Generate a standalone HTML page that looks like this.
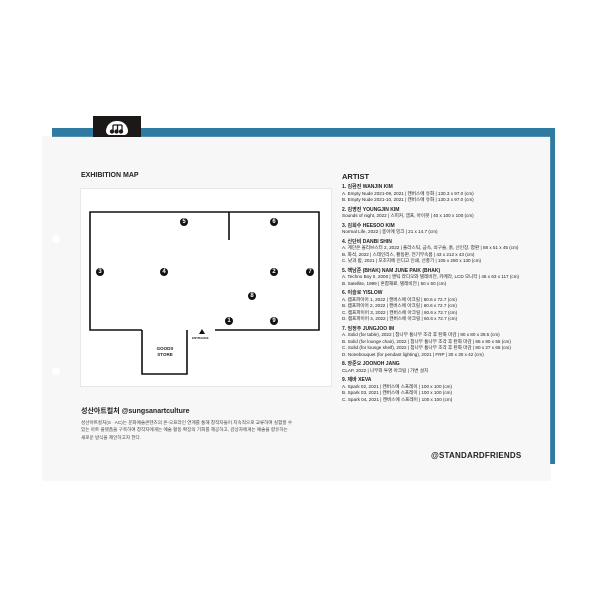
<!DOCTYPE html><html><head><meta charset="utf-8"><style>
body{margin:0;width:600px;height:600px;background:#fff;position:relative;overflow:hidden;font-family:"Liberation Sans","Noto Sans CJK KR",sans-serif;color:#222}
.a{position:absolute}
.t{position:absolute;font-size:4.6px;line-height:6.5px;white-space:nowrap}
.t b{font-weight:bold;font-size:5px}
.n{position:absolute;width:8px;height:8px;border-radius:50%;background:#111;color:#fff;font-size:6px;font-weight:bold;text-align:center;line-height:8px;margin:-4px 0 0 -4px}
</style></head><body>
<div class="a" style="left:52px;top:128px;width:503px;height:336px;background:#2e7aa3"></div>
<div class="a" style="left:43px;top:137px;width:507px;height:343px;background:#f7f7f7;box-shadow:0 0 1px #ddd"></div>
<div class="a" style="left:93px;top:116px;width:48px;height:21px;background:#1c1818"></div>
<div class="a" style="left:106px;top:121px;width:22px;height:14px;background:#fff;border-radius:11px 11px 4px 4px"></div>
<svg class="a" style="left:106px;top:121px" width="22" height="14"><g stroke="#1c1818" stroke-width="1.3" fill="#1c1818"><path d="M7 4 H16 M7 4 V10 M11.5 4 V10 M16 4 V10" fill="none"/><circle cx="6" cy="10.5" r="1.5"/><circle cx="10.5" cy="10.5" r="1.5"/><circle cx="15" cy="10.5" r="1.5"/></g></svg>
<div class="a" style="left:52px;top:235px;width:8px;height:8px;border-radius:50%;background:#fff"></div>
<div class="a" style="left:52px;top:367px;width:8px;height:8px;border-radius:50%;background:#fff"></div>
<div class="a" style="left:81px;top:172px;font-size:7px;font-weight:bold">EXHIBITION MAP</div>
<div class="a" style="left:80px;top:188px;width:250px;height:197px;background:#fff;border:1px solid #e8e8e8"></div>
<svg class="a" style="left:0;top:0" width="600" height="600">
<g fill="none" stroke="#111" stroke-width="1.6">
<polyline points="142,330 90,330 90,212 319,212 319,330 215,330"/>
<polyline points="142,330 142,374 187,374 187,330"/>
<line x1="229" y1="212" x2="229" y2="240"/>
</g>
<polygon points="202,329 199,334 205,334" fill="#111"/>
</svg>
<div class="a" style="left:192px;top:336px;font-size:3px;font-weight:bold">ENTRANCE</div>
<div class="a" style="left:150px;top:346px;width:30px;text-align:center;font-size:4.5px;font-weight:bold;line-height:6px">GOODS<br>STORE</div>
<div class="n" style="left:184px;top:222px">5</div><div class="n" style="left:274px;top:222px">6</div>
<div class="n" style="left:100px;top:272px">3</div><div class="n" style="left:164px;top:272px">4</div>
<div class="n" style="left:274px;top:272px">2</div><div class="n" style="left:310px;top:272px">7</div>
<div class="n" style="left:252px;top:296px">8</div><div class="n" style="left:229px;top:321px">1</div>
<div class="n" style="left:274px;top:321px">9</div>
<div class="a" style="left:81px;top:406px;font-size:7px;font-weight:bold">성산아트컬처 @sungsanartculture</div>
<div class="t" style="left:81px;top:419px;font-size:4.6px;line-height:7.3px;color:#444">성산아트컬처(S · AC)는 문화예술콘텐츠의 온-오프라인 연계를 통해 창작자들이 지속적으로 교류하여 실험할 수<br>있는 아트 플랫폼을 구축하여 창작자에게는 예술 활동 확장의 기회를 제공하고, 감상자에게는 예술을 향유하는<br>새로운 방식을 제안하고자 한다.</div>
<div class="a" style="left:342px;top:172px;font-size:7.5px;font-weight:bold">ARTIST</div>
<div class="t" style="left:342px;top:184px">
<b>1. 김환진 WANJIN KIM</b><br>A. Empty Nude 2021-09, 2021 | 캔버스에 유화 | 130.3 x 97.0 (cm)<br>B. Empty Nude 2021-10, 2021 | 캔버스에 유화 | 130.3 x 97.0 (cm)<br>
<div style="height:3px"></div><b>2. 김영진 YOUNGJIN KIM</b><br>Sounds of night, 2022 | 스피커, 앰프, 아이팟 | 40 x 100 x 100 (cm)<br>
<div style="height:3px"></div><b>3. 김희수 HEESOO KIM</b><br>Normal Life, 2022 | 종이에 잉크 | 21 x 14.7 (cm)<br>
<div style="height:3px"></div><b>4. 신단비 DANBI SHIN</b><br>A. 계단은 올리브스터 2, 2022 | 플라스틱, 금속, 쇠구슬, 흙, 선인장, 합판 | 88 x 51 x 45 (cm)<br>B. 화석, 2022 | 스테인리스, 황동판, 전기부속품 | 43 x 212 x 43 (cm)<br>C. 낮과 밤, 2021 | 모조지에 인디고 인쇄, 선풍기 | 105 x 280 x 130 (cm)<br>
<div style="height:3px"></div><b>5. 백남준 (BHAK) NAM JUNE PAIK (BHAK)</b><br>A. Techno Boy II, 2000 | 앤틱 라디오와 텔레비전, 카메라, LCD 모니터 | 46 x 63 x 117 (cm)<br>B. Satellite, 1999 | 혼합재료, 텔레비전 | 50 x 50 (cm)<br>
<div style="height:3px"></div><b>6. 이슬로 YISLOW</b><br>A. 캠프파이어 1, 2022 | 캔버스에 아크릴 | 60.6 x 72.7 (cm)<br>B. 캠프파이어 2, 2022 | 캔버스에 아크릴 | 60.6 x 72.7 (cm)<br>C. 캠프파이어 3, 2022 | 캔버스에 아크릴 | 60.6 x 72.7 (cm)<br>D. 캠프파이어 4, 2022 | 캔버스에 아크릴 | 60.6 x 72.7 (cm)<br>
<div style="height:3px"></div><b>7. 임정주 JUNGJOO IM</b><br>A. Solid (for table), 2022 | 참나무 통나무 조각 후 탄화 마감 | 80 x 80 x 39.5 (cm)<br>B. Solid (for lounge chair), 2022 | 참나무 통나무 조각 후 탄화 마감 | 85 x 90 x 55 (cm)<br>C. Solid (for lounge shelf), 2022 | 참나무 통나무 조각 후 탄화 마감 | 80 x 27 x 65 (cm)<br>D. Nonebouquet (for pendant lighting), 2021 | FRP | 30 x 30 x 42 (cm)<br>
<div style="height:3px"></div><b>8. 장준오 JOONOH JANG</b><br>CLAP, 2022 | 나무와 투명 아크릴 | 가변 설치<br>
<div style="height:3px"></div><b>9. 제바 XEVA</b><br>A. Spark 02, 2021 | 캔버스에 스프레이 | 100 x 100 (cm)<br>B. Spark 03, 2021 | 캔버스에 스프레이 | 100 x 100 (cm)<br>C. Spark 04, 2021 | 캔버스에 스프레이 | 100 x 100 (cm)
</div>
<div class="a" style="left:431px;top:451px;font-size:8px;font-weight:bold;letter-spacing:0.2px">@STANDARDFRIENDS</div>
</body></html>
